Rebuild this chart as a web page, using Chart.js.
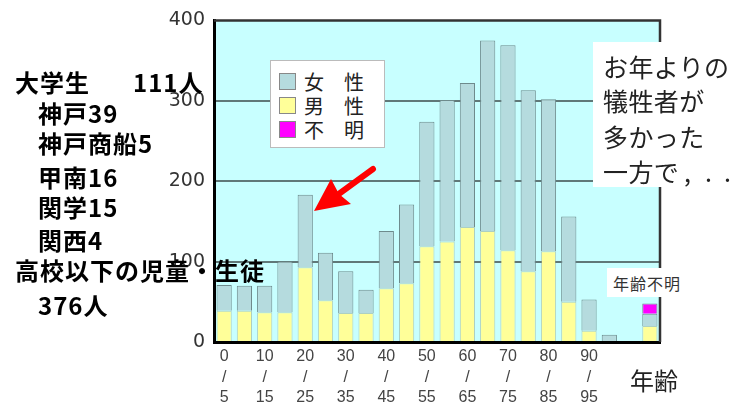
<!DOCTYPE html>
<html lang="ja">
<head>
<meta charset="utf-8">
<script src="https://cdn.jsdelivr.net/npm/chart.js@4.4.1/dist/chart.umd.min.js"></script>
<style>
  html, body { margin: 0; padding: 0; background: #fff; }
  #wrap { position: relative; width: 743px; height: 408px; overflow: hidden; }
  #wrap canvas { position: absolute; left: 0; top: 0; }
  .t { position: absolute; white-space: nowrap; font-family: "Noto Sans CJK JP", sans-serif; line-height: 1; }
  .note { font-size: 24px; font-weight: 700; color: #000; letter-spacing: 1px; }
  .legend { position: absolute; left: 270px; top: 60px; width: 113px; height: 86px;
            background: #fff; border: 1px solid #bbb; }
  .sw { position: absolute; left: 8px; width: 15px; height: 15px; border: 1px solid #888; }
  .lg { position: absolute; left: 33px; font-family: "Noto Sans CJK JP", sans-serif;
        font-size: 20px; line-height: 1; color: #222; white-space: nowrap; }
  .box { position: absolute; left: 593px; top: 42px; width: 150px; height: 145px; background: #fff; }
  .msg { font-size: 25px; color: #222; letter-spacing: 0.4px; }
  .unk { position: absolute; left: 607px; top: 268px; width: 76px; height: 29px; background: #fff; }
</style>
</head>
<body>
<div id="wrap">
  <canvas id="c" width="743" height="408"></canvas>

  <div class="legend">
    <div class="sw" style="top:12px;background:#b5dbde"></div><div class="lg" style="top:11px">女　性</div>
    <div class="sw" style="top:36px;background:#ffff99"></div><div class="lg" style="top:35px">男　性</div>
    <div class="sw" style="top:60px;background:#ff00ff"></div><div class="lg" style="top:59px">不　明</div>
  </div>

  <div class="box">
    <div class="t msg" style="left:10px;top:12px">お年よりの</div>
    <div class="t msg" style="left:10px;top:46px">犠牲者が</div>
    <div class="t msg" style="left:10px;top:82px">多かった</div>
    <div class="t msg" style="left:10px;top:117px">一方で</div>
    <div class="t msg" style="left:91px;top:117px">,</div>
    <div class="t msg" style="left:112px;top:117px">.</div>
    <div class="t msg" style="left:131px;top:117px">.</div>
  </div>

  <div class="unk"><div class="t" style="left:6px;top:7px;font-size:16px;color:#333;letter-spacing:1px">年齢不明</div></div>

  <div class="t note" style="left:15px;top:70px">大学生</div>
  <div class="t note" style="left:133px;top:70px">111人</div>
  <div class="t note" style="left:38px;top:101px">神戸39</div>
  <div class="t note" style="left:38px;top:131px">神戸商船5</div>
  <div class="t note" style="left:38px;top:165px">甲南16</div>
  <div class="t note" style="left:38px;top:195px">関学15</div>
  <div class="t note" style="left:38px;top:228px">関西4</div>
  <div class="t note" style="left:15px;top:258px">高校以下の児童・生徒</div>
  <div class="t note" style="left:38px;top:293px">376人</div>

  <div class="t" style="left:630px;top:368px;font-size:24px;color:#222">年齢</div>

  <svg width="743" height="408" style="position:absolute;left:0;top:0;pointer-events:none">
    <line x1="373" y1="169" x2="336" y2="196" stroke="#ff0000" stroke-width="6" stroke-linecap="round"/>
    <polygon points="314,211 331,179 339,194 351,204" fill="#ff0000"/>
  </svg>
</div>

<script>
// 5歳階級（0-4, 5-9, ... 95-99）、空欄、年齢不明
var ageLabels = [['0', '/', '5'], '', ['10', '/', '15'], '', ['20', '/', '25'], '', ['30', '/', '35'], '',
                 ['40', '/', '45'], '', ['50', '/', '55'], '', ['60', '/', '65'], '', ['70', '/', '75'], '',
                 ['80', '/', '85'], '', ['90', '/', '95'], '', '', ''];
var male    = [39, 39, 37, 37, 93, 52, 36, 36, 67, 73, 119, 125, 143, 138, 114, 88, 113, 50, 14, 0, null, 20];
var female  = [32, 31, 33, 63, 90, 59, 52, 29, 71, 98, 155, 176, 179, 237, 255, 225, 189, 106, 39, 9, null, 15];
var unknown = [null, null, null, null, null, null, null, null, null, null, null, null, null, null, null, null,
               null, null, null, null, null, 13];
var yTicks  = [0, 100, 200, 300, 400];

var plotFrame = {
    id: 'plotFrame',
    beforeDraw: function (chart) {
        var a = chart.chartArea, ctx = chart.ctx;
        ctx.save();
        ctx.fillStyle = '#c8ffff';
        ctx.fillRect(a.left, a.top, a.right - a.left, a.bottom - a.top);
        ctx.restore();
    },
    afterDraw: function (chart) {
        var a = chart.chartArea, ctx = chart.ctx;
        ctx.save();
        ctx.strokeStyle = '#333';
        ctx.lineWidth = 2.5;
        ctx.beginPath();
        ctx.moveTo(a.left, a.top);
        ctx.lineTo(a.right, a.top);
        ctx.lineTo(a.right, a.bottom);
        ctx.stroke();
        ctx.restore();
    }
};

new Chart(document.getElementById('c'), {
    type: 'bar',
    data: {
        labels: ageLabels,
        datasets: [
            { label: '男性', data: male, backgroundColor: '#ffff99',
              borderColor: 'rgba(140,150,120,0.45)', borderWidth: 1 },
            { label: '女性', data: female, backgroundColor: '#b5dbde',
              borderColor: '#6e8a8c', borderWidth: 1 },
            { label: '不明', data: unknown, backgroundColor: '#ff00ff',
              borderColor: '#6e8a8c', borderWidth: 1 }
        ]
    },
    options: {
        responsive: false,
        animation: false,
        devicePixelRatio: 1,
        layout: { padding: { left: 0, right: 83, top: 17, bottom: 0 } },
        datasets: { bar: { barPercentage: 0.75, categoryPercentage: 1 } },
        plugins: { legend: { display: false }, tooltip: { enabled: false } },
        scales: {
            x: {
                stacked: true,
                grid: { display: false, drawTicks: false },
                border: { display: true, color: '#000', width: 3 },
                ticks: {
                    autoSkip: false, maxRotation: 0, padding: 4, color: '#444',
                    font: { family: '"Liberation Sans", Arial, sans-serif', size: 16, lineHeight: 1.3 }
                },
                afterFit: function (s) { s.height = 66; }
            },
            y: {
                stacked: true,
                min: 0, max: 400,
                afterBuildTicks: function (s) { s.ticks = yTicks.map(function (v) { return { value: v }; }); },
                grid: {
                    drawTicks: false, lineWidth: 2,
                    color: function (c) {
                        return (c.tick && (c.tick.value === 0 || c.tick.value === 400)) ? 'rgba(0,0,0,0)' : '#607878';
                    }
                },
                border: { display: true, color: '#000', width: 3 },
                ticks: {
                    padding: 9, color: '#333',
                    font: { family: '"DejaVu Sans", sans-serif', size: 19 }
                },
                afterFit: function (s) { s.width = 214; }
            }
        }
    },
    plugins: [plotFrame]
});
</script>
</body>
</html>
